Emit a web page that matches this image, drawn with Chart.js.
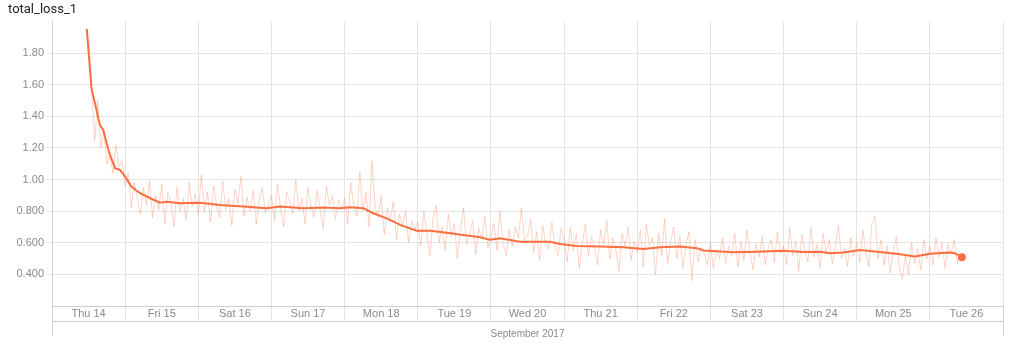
<!DOCTYPE html>
<html>
<head>
<meta charset="utf-8">
<script src="https://cdn.jsdelivr.net/npm/chart.js@4/dist/chart.umd.min.js"></script>
<style>
  html, body { margin: 0; padding: 0; background: #fff; }
  #wrap { width: 1024px; height: 344px; position: relative; }
</style>
</head>
<body>
<div id="wrap"><canvas id="chart" width="1024" height="344"></canvas></div>
<script>
// Data (x in hours since Thu 14 Sep 2017 00:00)
const dayLabels = ['Thu 14', 'Fri 15', 'Sat 16', 'Sun 17', 'Mon 18', 'Tue 19', 'Wed 20',
    'Thu 21', 'Fri 22', 'Sat 23', 'Sun 24', 'Mon 25', 'Tue 26'];
const monthLabel = 'September 2017';
const chartTitle = 'total_loss_1';

// smoothed curve
const smoothHours = [11.4, 13.0, 14.1, 15.7, 16.8, 18.8, 20.7, 22.3, 24.0, 26.1, 28.9, 32.2, 35.4, 37.6,
    42.0, 48.6, 55.1, 62.8, 70.4, 74.8, 82.4, 89.0, 94.5, 97.8, 102.1, 105.4, 109.8, 114.2,
    119.6, 124.0, 129.5, 134.9, 140.4, 143.7, 147.0, 153.5, 163.4, 166.7, 172.1, 179.8, 187.4,
    194.0, 199.5, 206.0, 211.5, 213.7, 223.5, 231.2, 239.9, 246.5, 252.0, 255.2, 259.6, 265.1,
    270.6, 277.1, 283.1, 288.0, 294.6, 296.2, 298.5];
const smoothValues = [1.953, 1.570, 1.483, 1.346, 1.314, 1.167, 1.072, 1.061, 1.019, 0.955, 0.914, 0.882, 0.854, 0.859,
    0.850, 0.853, 0.839, 0.829, 0.819, 0.829, 0.819, 0.823, 0.818, 0.825, 0.819, 0.787, 0.755, 0.713,
    0.677, 0.677, 0.664, 0.650, 0.635, 0.620, 0.629, 0.607, 0.607, 0.593, 0.580, 0.576, 0.572,
    0.561, 0.572, 0.576, 0.566, 0.551, 0.540, 0.544, 0.549, 0.542, 0.544, 0.534, 0.538, 0.555,
    0.544, 0.530, 0.513, 0.530, 0.538, 0.534, 0.509];

// raw values, one per hour starting at hour 12
const rawStartHour = 12;
const rawValues = [
    1.90, 1.58, 1.25, 1.50, 1.20, 1.32, 1.10, 1.16, 1.04, 1.22, 1.08, 1.12,
    0.96, 1.04, 0.82, 0.98, 0.88, 0.78, 0.95, 0.84, 0.99, 0.76, 0.90, 0.81, 0.97, 0.72, 0.92, 0.86, 0.70, 0.95, 0.80, 0.88, 0.74, 0.98, 0.83, 0.91,
    0.78, 1.03, 0.80, 0.92, 0.73, 0.96, 0.84, 0.76, 0.99, 0.81, 0.88, 0.71, 0.94, 0.85, 1.02, 0.77, 0.89, 0.80, 0.93, 0.72, 0.87, 0.95, 0.79, 0.84,
    0.90, 0.74, 0.97, 0.82, 0.70, 0.92, 0.86, 0.78, 1.00, 0.80, 0.88, 0.72, 0.95, 0.83, 0.76, 0.93, 0.81, 0.69, 0.96, 0.84, 0.90, 0.75, 0.87, 0.82,
    0.88, 0.72, 0.98, 0.84, 0.77, 1.05, 0.80, 0.92, 0.70, 1.12, 0.83, 0.76, 0.90, 0.65, 0.82, 0.74, 0.86, 0.62, 0.78, 0.70, 0.80, 0.60, 0.74, 0.68,
    0.73, 0.58, 0.80, 0.66, 0.52, 0.76, 0.84, 0.60, 0.70, 0.55, 0.78, 0.64, 0.72, 0.50, 0.68, 0.82, 0.59, 0.66, 0.74, 0.53, 0.69, 0.62, 0.77, 0.57,
    0.64, 0.72, 0.55, 0.80, 0.60, 0.52, 0.68, 0.58, 0.70, 0.63, 0.82, 0.62, 0.64, 0.75, 0.54, 0.67, 0.49, 0.71, 0.60, 0.56, 0.73, 0.58, 0.52, 0.69,
    0.62, 0.48, 0.70, 0.55, 0.66, 0.44, 0.60, 0.72, 0.52, 0.64, 0.57, 0.46, 0.68, 0.59, 0.74, 0.50, 0.63, 0.55, 0.42, 0.66, 0.58, 0.70, 0.49, 0.61,
    0.54, 0.68, 0.45, 0.72, 0.58, 0.63, 0.40, 0.66, 0.52, 0.75, 0.47, 0.61, 0.70, 0.50, 0.64, 0.44, 0.59, 0.67, 0.36, 0.62, 0.48, 0.57, 0.53, 0.46,
    0.60, 0.44, 0.56, 0.50, 0.63, 0.47, 0.58, 0.52, 0.66, 0.45, 0.61, 0.49, 0.68, 0.54, 0.43, 0.59, 0.51, 0.64, 0.46, 0.57, 0.62, 0.48, 0.67, 0.53,
    0.58, 0.46, 0.69, 0.52, 0.61, 0.42, 0.65, 0.55, 0.48, 0.70, 0.51, 0.59, 0.44, 0.66, 0.53, 0.62, 0.47, 0.58, 0.71, 0.50, 0.56, 0.45, 0.63, 0.52,
    0.60, 0.48, 0.68, 0.54, 0.45, 0.72, 0.77, 0.50, 0.62, 0.46, 0.58, 0.41, 0.55, 0.64, 0.44, 0.37, 0.52, 0.40, 0.60, 0.47, 0.56, 0.43, 0.62, 0.50,
    0.58, 0.46, 0.63, 0.51, 0.60, 0.44, 0.59, 0.53, 0.62, 0.47, 0.52
];

const yTicks = [0.2, 0.4, 0.6, 0.8, 1.0, 1.2, 1.4, 1.6, 1.8, 2.0];

// Colors
const lineColor = '#ff6e40';
const rawColor = 'rgba(255, 112, 67, 0.3)';
const gridColor = '#e3e3e3';
const axisColor = '#cfcfcf';
const labelColor = '#8a8a8a';

// Build datasets
const smoothData = smoothHours.map((h, i) => ({ x: h, y: smoothValues[i] }));
const rawData = rawValues.map((v, i) => ({ x: rawStartHour + i, y: v }));

// extra lines under the tick labels (label row box)
const labelRowPlugin = {
    id: 'labelRow',
    afterDraw(chart) {
        const { ctx, chartArea, scales } = chart;
        const xs = scales.x;
        const rowBottom = chartArea.bottom + 15;
        ctx.save();
        ctx.strokeStyle = axisColor;
        ctx.lineWidth = 1;
        ctx.beginPath();
        ctx.moveTo(xs.getPixelForValue(0), rowBottom + 0.5);
        ctx.lineTo(xs.getPixelForValue(312), rowBottom + 0.5);
        [0, 312].forEach(v => {
            const px = Math.round(xs.getPixelForValue(v)) + 0.5;
            ctx.moveTo(px, chartArea.bottom);
            ctx.lineTo(px, rowBottom + 15);
        });
        ctx.stroke();
        ctx.restore();
    }
};

const ctx = document.getElementById('chart').getContext('2d');
const chart = new Chart(ctx, {
    type: 'line',
    data: {
        datasets: [{
            label: 'smoothed',
            data: smoothData,
            borderColor: lineColor,
            backgroundColor: lineColor,
            borderWidth: 2,
            pointRadius: c => c.dataIndex === smoothData.length - 1 ? 4 : 0,
            pointBorderWidth: 0,
            tension: 0,
            order: 0
        }, {
            label: 'raw',
            data: rawData,
            borderColor: rawColor,
            borderWidth: 1,
            pointRadius: 0,
            tension: 0,
            order: 1
        }]
    },
    options: {
        responsive: false,
        animation: false,
        layout: { padding: { left: 8, right: 21, top: 0, bottom: 0 } },
        plugins: {
            legend: { display: false },
            tooltip: { enabled: false },
            title: {
                display: true,
                text: chartTitle,
                align: 'start',
                color: '#222',
                font: { family: 'Roboto', size: 13, weight: 'normal' },
                padding: { top: 2, bottom: 4 }
            }
        },
        scales: {
            x: {
                type: 'linear',
                min: 0,
                max: 312,
                afterBuildTicks: scale => {
                    const t = [];
                    for (let v = 0; v <= 312; v += 12) t.push({ value: v });
                    scale.ticks = t;
                },
                afterFit: scale => { scale.height = 38; },
                grid: {
                    color: c => (c.tick && c.tick.value % 24 === 0) ? gridColor : 'rgba(0,0,0,0)',
                    tickLength: 15,
                    drawTicks: true
                },
                border: { color: axisColor },
                ticks: {
                    autoSkip: false,
                    maxRotation: 0,
                    padding: -14,
                    color: labelColor,
                    font: { family: 'Liberation Sans', size: 11 },
                    callback: v => (v % 24 === 12) ? dayLabels[(v - 12) / 24] : ''
                },
                title: {
                    display: true,
                    text: monthLabel,
                    color: labelColor,
                    font: { family: 'Liberation Sans', size: 10 },
                    padding: { top: 4, bottom: 4 }
                }
            },
            y: {
                type: 'linear',
                min: 0.2,
                max: 2.0,
                afterBuildTicks: scale => {
                    scale.ticks = yTicks.map(v => ({ value: v }));
                },
                afterFit: scale => { scale.width = 44; },
                grid: {
                    color: c => (c.tick && (c.tick.value < 0.3 || c.tick.value > 1.9)) ? 'rgba(0,0,0,0)' : gridColor,
                    tickLength: 5
                },
                border: { color: axisColor },
                ticks: {
                    padding: 3,
                    color: labelColor,
                    font: { family: 'Liberation Sans', size: 11 },
                    callback: v => {
                        if (v < 0.3 || v > 1.9) return '';
                        return v < 0.95 ? v.toFixed(3) : v.toFixed(2);
                    }
                }
            }
        }
    },
    plugins: [labelRowPlugin]
});
</script>
</body>
</html>
